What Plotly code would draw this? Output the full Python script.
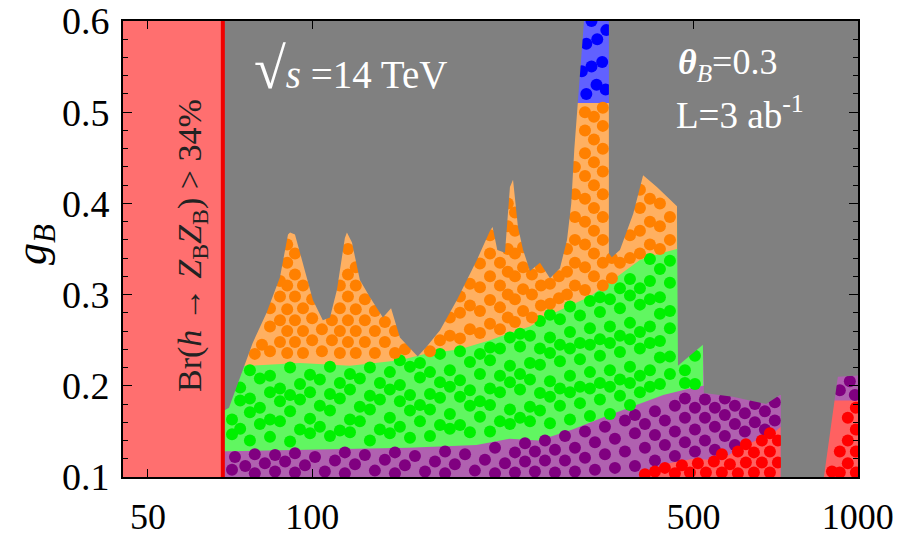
import plotly.graph_objects as go

# ---------------- data ----------------
# x: m_ZB [GeV] (log axis), y: g_B
x_range_log = [1.65333, 3.0003]
y_range = [0.1, 0.6]
x_tick_vals = [50, 100, 500, 1000]
x_tick_text = ["50", "100", "500", "1000"]

# Br(h -> ZB ZB) > 34% excluded region edge
br_edge_mass = 68.6

# grey excluded region (two pieces: left of and right of the narrow channel)
gray_left_mass = [68.6, 68.6, 70.4, 77.8, 82.5, 87.3, 90.3, 91.1, 93.0, 96.2, 100.3, 104.6, 107.8,
                  111.0, 114.8, 115.8, 118.3, 122.3, 127.6, 134.8, 139.5, 144.8, 156.1, 162.2, 171.5,
                  184.2, 200.4, 211.8, 214.1, 218.4, 225.6, 230.4, 233.4, 238.3, 243.5, 250.7, 261.5,
                  272.8, 284.5, 293.1, 298.4, 302.3, 308.3, 314.9, 314.9]
gray_left_g = [0.62, 0.172, 0.176, 0.247, 0.280, 0.319, 0.366, 0.368, 0.366, 0.335, 0.294, 0.272, 0.275,
               0.305, 0.362, 0.368, 0.357, 0.316, 0.297, 0.275, 0.285, 0.253, 0.232, 0.243, 0.261,
               0.294, 0.338, 0.370, 0.374, 0.349, 0.346, 0.418, 0.426, 0.374, 0.349, 0.326, 0.335,
               0.318, 0.329, 0.360, 0.400, 0.460, 0.530, 0.600, 0.620]
gray_right_mass = [349.8, 349.8, 354.2, 366.5, 387.7, 404.1, 428.3, 466.2, 468.1, 520.0, 522.2, 590.3,
                   634.1, 679.1, 719.7, 722.8, 722.8, 865.0, 866.6, 919.1, 1050, 1050]
gray_right_g = [0.62, 0.345, 0.341, 0.349, 0.389, 0.431, 0.418, 0.397, 0.222, 0.245, 0.192, 0.188,
                0.184, 0.180, 0.190, 0.190, 0.090, 0.090, 0.100, 0.210, 0.212, 0.620]

# upper edges of the colour bands
green_top_mass = [66, 76.9, 95.0, 117.3, 144.8, 160.9, 186.6, 211.8, 230.4, 250.7, 272.8, 296.8, 322.9,
                  336.8, 366.5, 398.7, 433.8, 466.2, 467, 521]
green_top_g = [0.222, 0.222, 0.225, 0.222, 0.228, 0.235, 0.240, 0.250, 0.258, 0.265, 0.278, 0.288, 0.298,
               0.306, 0.322, 0.338, 0.345, 0.350, 0.620, 0.620]
purple_top_mass = [66, 100, 150, 200, 230, 260, 300, 340, 390, 440, 500, 521, 522, 1050]
purple_top_g = [0.128, 0.130, 0.132, 0.135, 0.142, 0.140, 0.152, 0.165, 0.178, 0.190, 0.198, 0.200, 0.620, 0.620]
red_mid_mass = [404, 420, 450, 500, 560, 600, 650, 700, 722]
red_mid_top = [0.100, 0.105, 0.115, 0.120, 0.118, 0.130, 0.140, 0.148, 0.155]
red_right_mass = [850, 905, 1050]
red_right_top = [0.100, 0.184, 0.184]
orange_band_mass = [66, 470]
blue_band_mass = [300, 370]
blue_band_low = 0.51

# scan points
purple_pts = [(71.3, 0.108), (72.2, 0.122), (75.4, 0.112), (78.5, 0.125), (78.5, 0.104), (81.9, 0.115),
              (85.5, 0.106), (85.5, 0.124), (89.2, 0.117), (93.0, 0.105), (93.0, 0.126), (97.0, 0.113),
              (101.2, 0.122), (105.5, 0.106), (110.1, 0.118), (114.8, 0.104), (114.8, 0.127), (119.8, 0.114),
              (124.9, 0.124), (130.3, 0.107), (135.9, 0.119), (141.8, 0.104), (141.8, 0.127), (147.9, 0.113),
              (154.3, 0.123), (161.0, 0.106), (167.9, 0.117), (175.2, 0.128), (175.2, 0.104), (182.6, 0.114),
              (190.6, 0.125), (198.7, 0.107), (207.3, 0.119), (216.3, 0.132), (216.3, 0.104), (225.6, 0.115),
              (235.3, 0.127), (235.3, 0.105), (245.5, 0.137), (245.5, 0.117), (256.0, 0.106), (256.0, 0.128),
              (267.1, 0.118), (267.1, 0.140), (278.6, 0.105), (278.6, 0.130), (290.6, 0.145), (290.6, 0.118),
              (303.1, 0.106), (303.1, 0.132), (316.2, 0.150), (316.2, 0.121), (329.8, 0.108), (329.8, 0.138),
              (344.0, 0.155), (344.0, 0.125), (358.8, 0.110), (358.8, 0.142), (374.3, 0.162), (374.3, 0.128),
              (390.4, 0.112), (390.4, 0.148), (390.4, 0.168), (407.2, 0.132), (407.2, 0.158), (424.8, 0.118),
              (424.8, 0.146), (424.8, 0.172), (443.0, 0.135), (443.0, 0.162), (462.1, 0.123), (462.1, 0.150),
              (462.1, 0.178), (482.1, 0.138), (482.1, 0.165), (482.1, 0.186), (502.9, 0.128), (502.9, 0.152),
              (502.9, 0.176), (524.6, 0.140), (524.6, 0.165), (524.6, 0.185), (547.0, 0.130), (547.0, 0.155),
              (547.0, 0.176), (570.5, 0.145), (570.5, 0.168), (570.5, 0.186), (595.2, 0.135), (595.2, 0.158),
              (595.2, 0.178), (620.8, 0.150), (620.8, 0.170), (647.6, 0.160), (647.6, 0.180), (675.6, 0.152),
              (675.6, 0.172), (704.5, 0.162), (704.5, 0.182), (926.8, 0.195), (966.8, 0.205), (987.4, 0.190)]

green_cols = [
    (71.3, [0.147, 0.163]), (73.8, [0.153, 0.184, 0.198]), (76.9, [0.140, 0.171, 0.186, 0.217]),
    (80.2, [0.158, 0.176, 0.208]), (83.7, [0.144, 0.163, 0.193, 0.211]), (87.3, [0.161, 0.183, 0.197]),
    (91.1, [0.139, 0.172, 0.190, 0.220]), (95.0, [0.152, 0.185, 0.202]), (99.1, [0.148, 0.164, 0.193, 0.212]),
    (103.3, [0.155, 0.178, 0.207]), (107.8, [0.145, 0.173, 0.191, 0.221]), (112.4, [0.151, 0.186, 0.203]),
    (117.3, [0.149, 0.163, 0.196, 0.213]), (122.3, [0.161, 0.177, 0.208]), (127.6, [0.140, 0.174, 0.189, 0.220]),
    (133.1, [0.152, 0.185, 0.203]), (138.8, [0.148, 0.165, 0.196, 0.215]), (144.8, [0.155, 0.183, 0.201, 0.228]),
    (151.1, [0.143, 0.173, 0.190, 0.221]), (157.6, [0.161, 0.179, 0.209, 0.225]),
    (164.4, [0.145, 0.174, 0.191, 0.215]), (171.5, [0.157, 0.187, 0.204, 0.235]),
    (178.8, [0.153, 0.169, 0.199, 0.217]), (186.6, [0.157, 0.188, 0.206, 0.238]),
    (194.6, [0.149, 0.178, 0.195, 0.226]), (203.0, [0.166, 0.183, 0.213, 0.235]),
    (211.8, [0.150, 0.179, 0.197, 0.228, 0.242]), (220.9, [0.161, 0.193, 0.211, 0.241]),
    (230.4, [0.158, 0.174, 0.204, 0.222, 0.253]), (240.4, [0.165, 0.196, 0.213, 0.243, 0.257]),
    (250.7, [0.161, 0.177, 0.207, 0.225, 0.255]), (261.5, [0.173, 0.192, 0.223, 0.241, 0.271]),
    (272.8, [0.159, 0.188, 0.205, 0.236, 0.253, 0.278]), (284.5, [0.178, 0.197, 0.227, 0.245, 0.273]),
    (296.8, [0.163, 0.193, 0.211, 0.241, 0.259, 0.287]), (309.6, [0.181, 0.199, 0.229, 0.247, 0.277]),
    (322.9, [0.167, 0.197, 0.215, 0.245, 0.263, 0.293]), (336.8, [0.185, 0.203, 0.233, 0.251, 0.281, 0.297]),
    (351.3, [0.169, 0.199, 0.217, 0.247, 0.265, 0.295]), (366.5, [0.189, 0.207, 0.237, 0.255, 0.285, 0.307]),
    (382.3, [0.179, 0.203, 0.221, 0.251, 0.269, 0.299, 0.317]), (398.7, [0.193, 0.211, 0.241, 0.259, 0.289, 0.307]),
    (415.9, [0.199, 0.217, 0.247, 0.265, 0.295, 0.315, 0.339]), (433.8, [0.202, 0.231, 0.249, 0.279, 0.297, 0.328]),
    (452.5, [0.213, 0.232, 0.263, 0.282, 0.313, 0.337]), (482.1, [0.203, 0.217]), (502.9, [0.202, 0.233]),
]
green_pts = [(m, g) for m, gs in green_cols for g in gs]

orange_pts = [(78.5, 0.235), (80.9, 0.245), (83.7, 0.238), (83.7, 0.265), (83.7, 0.285),
              (87.3, 0.248), (87.3, 0.272), (87.3, 0.298), (87.3, 0.315),
              (90.0, 0.236), (90.0, 0.260), (90.0, 0.284), (90.0, 0.310), (90.0, 0.335), (90.0, 0.355),
              (93.0, 0.248), (93.0, 0.272), (93.0, 0.298), (93.0, 0.322), (93.0, 0.345),
              (96.2, 0.236), (96.2, 0.260), (96.2, 0.285), (96.2, 0.310), (100.0, 0.250), (100.0, 0.274), (100.0, 0.295),
              (104.2, 0.238), (104.2, 0.262), (108.7, 0.250), (108.7, 0.272),
              (112.4, 0.236), (112.4, 0.260), (112.4, 0.285), (112.4, 0.310),
              (116.3, 0.248), (116.3, 0.272), (116.3, 0.298), (116.3, 0.322), (116.3, 0.350),
              (120.2, 0.236), (120.2, 0.260), (120.2, 0.284), (120.2, 0.310), (120.2, 0.330),
              (124.9, 0.248), (124.9, 0.272), (124.9, 0.295), (130.3, 0.236), (130.3, 0.260), (130.3, 0.282),
              (135.9, 0.248), (135.9, 0.270), (141.8, 0.236), (141.8, 0.260), (147.9, 0.240),
              (164.4, 0.238), (171.5, 0.250), (178.8, 0.255), (178.8, 0.275),
              (186.6, 0.252), (186.6, 0.280), (186.6, 0.298), (194.6, 0.262), (194.6, 0.288), (194.6, 0.312),
              (203.0, 0.258), (203.0, 0.282), (203.0, 0.308), (203.0, 0.334),
              (211.8, 0.268), (211.8, 0.294), (211.8, 0.320), (211.8, 0.345), (211.8, 0.365),
              (220.9, 0.262), (220.9, 0.286), (220.9, 0.310), (220.9, 0.335),
              (228.3, 0.275), (228.3, 0.300), (228.3, 0.325), (228.3, 0.350), (228.3, 0.375), (228.3, 0.400),
              (235.3, 0.270), (235.3, 0.295), (235.3, 0.320), (235.3, 0.345), (235.3, 0.370), (235.3, 0.390),
              (243.5, 0.282), (243.5, 0.306), (243.5, 0.330), (243.5, 0.352),
              (252.8, 0.275), (252.8, 0.300), (252.8, 0.322), (262.6, 0.288), (262.6, 0.310), (262.6, 0.330),
              (272.8, 0.290), (272.8, 0.312), (283.3, 0.296), (283.3, 0.320),
              (293.1, 0.300), (293.1, 0.325), (293.1, 0.350),
              (303.1, 0.310), (303.1, 0.335), (303.1, 0.360), (303.1, 0.385), (303.1, 0.410), (303.1, 0.440),
              (316.2, 0.305), (316.2, 0.330), (316.2, 0.355), (316.2, 0.380), (316.2, 0.405), (316.2, 0.430),
              (316.2, 0.455), (316.2, 0.480), (316.2, 0.500),
              (328.4, 0.320), (328.4, 0.345), (328.4, 0.370), (328.4, 0.395), (328.4, 0.420), (328.4, 0.445),
              (328.4, 0.470), (328.4, 0.495),
              (340.9, 0.310), (340.9, 0.335), (340.9, 0.360), (340.9, 0.385), (340.9, 0.410), (340.9, 0.435),
              (340.9, 0.460), (340.9, 0.485), (340.9, 0.505),
              (354.2, 0.318), (354.2, 0.340), (366.5, 0.335), (382.3, 0.340), (382.3, 0.365),
              (398.7, 0.345), (398.7, 0.370), (398.7, 0.395), (398.7, 0.415),
              (415.9, 0.355), (415.9, 0.380), (415.9, 0.405), (433.8, 0.350), (433.8, 0.375), (433.8, 0.400),
              (452.5, 0.360), (452.5, 0.385)]

blue_pts = [(318, 0.520), (332, 0.530), (345, 0.525), (325, 0.550), (340, 0.555), (318, 0.575),
            (333, 0.580), (346, 0.590), (325, 0.600), (312, 0.545)]

red_pts = [(407.2, 0.103), (424.8, 0.106), (443.0, 0.110), (462.1, 0.104), (476.0, 0.113), (492.4, 0.105),
           (509.2, 0.115), (526.7, 0.105), (544.7, 0.117), (563.4, 0.105), (563.4, 0.125), (582.8, 0.114),
           (602.8, 0.104), (602.8, 0.128), (623.5, 0.116), (623.5, 0.136), (645.0, 0.105), (645.0, 0.127),
           (667.0, 0.116), (667.0, 0.140), (690.0, 0.105), (690.0, 0.128), (690.0, 0.148), (713.7, 0.116),
           (713.7, 0.140), (896.5, 0.106), (926.8, 0.105), (926.8, 0.128), (958.6, 0.115), (958.6, 0.140),
           (958.6, 0.165), (991.6, 0.105), (991.6, 0.128), (991.6, 0.152), (991.6, 0.176)]

# ---------------- colours / styles ----------------
C_PURPLE, C_GREEN, C_ORANGE, C_BLUE, C_RED = "#800080", "#00f000", "#ff8000", "#0000ff", "#ff0000"
T_PURPLE, T_GREEN, T_ORANGE, T_BLUE, T_RED = "#b061b0", "#61f661", "#ffb061", "#6161ff", "#ff6161"
GRAY = "#808080"
SERIF = "Liberation Serif"
MS = 12

fig = go.Figure()


def poly(xs, ys, color):
    fig.add_trace(go.Scatter(x=xs, y=ys, mode="lines", fill="toself", fillcolor=color,
                             line=dict(width=0, color=color), hoverinfo="skip", showlegend=False))


# tinted bands underneath the scan points
poly([orange_band_mass[0], orange_band_mass[1], orange_band_mass[1], orange_band_mass[0]],
     [0.09, 0.09, 0.62, 0.62], T_ORANGE)
poly([blue_band_mass[0], blue_band_mass[1], blue_band_mass[1], blue_band_mass[0]],
     [blue_band_low, blue_band_low, 0.62, 0.62], T_BLUE)
poly(green_top_mass + [green_top_mass[-1], green_top_mass[0]], green_top_g + [0.09, 0.09], T_GREEN)
poly(purple_top_mass + [purple_top_mass[-1], purple_top_mass[0]], purple_top_g + [0.09, 0.09], T_PURPLE)
poly(red_mid_mass + [red_mid_mass[-1], red_mid_mass[0]], red_mid_top + [0.09, 0.09], T_RED)
poly(red_right_mass + [red_right_mass[-1], red_right_mass[0]], red_right_top + [0.09, 0.09], T_RED)


def pts(points, color):
    fig.add_trace(go.Scatter(x=[p[0] for p in points], y=[p[1] for p in points], mode="markers",
                             marker=dict(size=MS, color=color, line=dict(width=0)),
                             hoverinfo="skip", showlegend=False))


pts(purple_pts, C_PURPLE)
pts(green_pts, C_GREEN)
pts(orange_pts, C_ORANGE)
pts(blue_pts, C_BLUE)
pts(red_pts, C_RED)

# excluded regions
poly(gray_left_mass, gray_left_g, GRAY)
poly(gray_right_mass, gray_right_g, GRAY)
poly([40, br_edge_mass, br_edge_mass, 40], [0.09, 0.09, 0.62, 0.62], "#ff6f6f")
fig.add_trace(go.Scatter(x=[br_edge_mass, br_edge_mass], y=[0.09, 0.62], mode="lines",
                         line=dict(color="#f00000", width=4), hoverinfo="skip", showlegend=False))

# ---------------- text ----------------
def px_x(p):
    return (p - 123) / 735.0


def px_y(p):
    return (477 - p) / 456.0


annotations = [
    dict(x=px_x(192), y=px_y(246), text="Br(<i>h</i> → <i>Z</i><sub>B</sub><i>Z</i><sub>B</sub>) > 34%",
         textangle=-90, font=dict(family=SERIF, size=34, color="#222222")),
    dict(x=px_x(252), y=px_y(68), xanchor="left",
         text="<span style='font-size:58px'>√</span><i>s</i> =14 TeV",
         font=dict(family=SERIF, size=39, color="white")),
    dict(x=px_x(727), y=px_y(65), text="<b><i>θ</i></b><sub><i>B</i></sub>=0.3",
         font=dict(family=SERIF, size=36, color="white")),
    dict(x=px_x(740), y=px_y(112), text="L=3 ab<sup>-1</sup>",
         font=dict(family=SERIF, size=37, color="white")),
    dict(x=px_x(34), y=px_y(245), text="<i>g</i><sub><i>B</i></sub>", textangle=-90,
         font=dict(family=SERIF, size=44, color="black")),
]
for a in annotations:
    a.setdefault("xanchor", "center")
    a.update(xref="paper", yref="paper", showarrow=False, yanchor="middle")

fig.update_layout(
    width=898, height=538, autosize=False,
    margin=dict(l=123, r=40, t=21, b=61, autoexpand=False),
    paper_bgcolor="white", plot_bgcolor="white",
    showlegend=False, annotations=annotations,
    font=dict(family=SERIF, size=36, color="black"),
)
fig.update_xaxes(type="log", range=x_range_log, tickvals=x_tick_vals, ticktext=x_tick_text,
                 ticks="inside", ticklen=8, tickcolor="black", showgrid=False, zeroline=False,
                 showline=True, linecolor="black", linewidth=2, mirror="allticks", automargin=False,
                 ticklabeloverflow="allow",
                 tickfont=dict(family=SERIF, size=36), ticklabelstandoff=7)
fig.update_yaxes(range=y_range, dtick=0.1, tickformat=".1f", automargin=False,
                 ticks="inside", ticklen=9, tickcolor="black", showgrid=False, zeroline=False,
                 showline=True, linecolor="black", linewidth=2, mirror="allticks",
                 ticklabeloverflow="allow",
                 minor=dict(dtick=0.02, ticks="inside", ticklen=5, tickcolor="black"),
                 tickfont=dict(family=SERIF, size=38), ticklabelstandoff=4)

# remove the browser's default 8 px page margin so the figure fills the window exactly
fig.write_html("out.html", config={"displayModeBar": False, "staticPlot": True},
               post_script="document.body.style.margin='0px';document.body.style.overflow='hidden';")
